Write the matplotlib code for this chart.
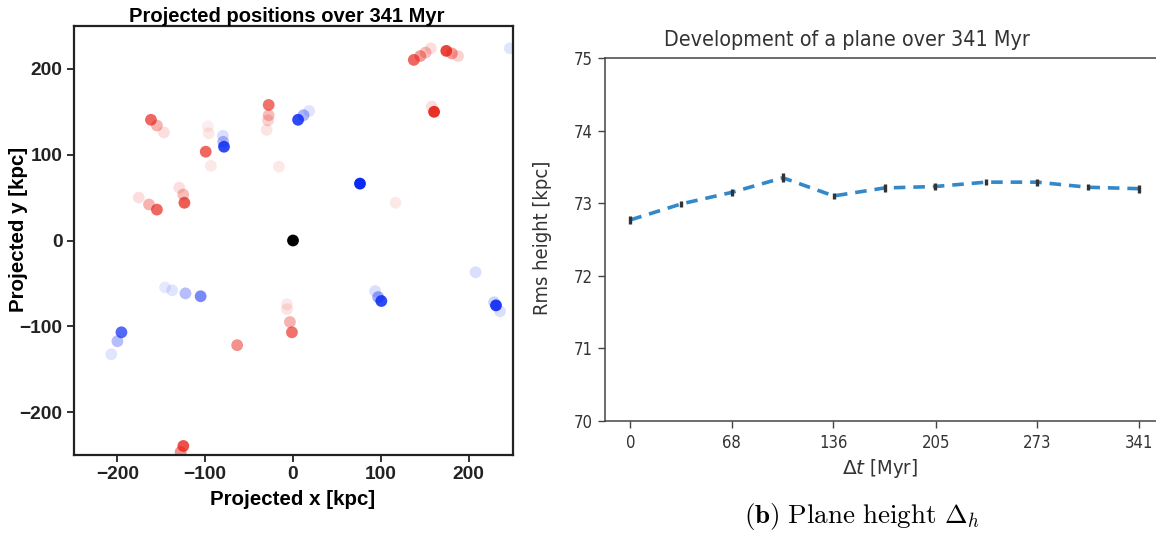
import matplotlib
matplotlib.use("Agg")
import matplotlib.pyplot as plt
import numpy as np

# ---------------- data: left panel (projected positions) ----------------
pos_x = [137.6, 145, 151, 157,
         174.6, 181, 188,
         160.7, 158,
         247,
         5.8, 12, 18.5,
         -27.7, -27.7, -28.5, -30,
         -161.8, -155, -147,
         -99.4, -97, -96, -93.6,
         -78.6, -79.5, -79.8,
         -16,
         76.3,
         116.8,
         -123.7, -125, -129.5,
         -155, -164, -175.7,
         0,
         208,
         -145.7, -137.6, -122.5, -105.2,
         93.6, 97, 100.6,
         231.2, 235.8, 229,
         -6.9, -6.9, -3.5, -1.2,
         -63.6,
         -195.4, -200, -207,
         -124.9, -128]
pos_y = [210.5, 215, 219, 224,
         221, 218, 215,
         150, 156,
         224,
         140.7, 146, 151,
         158, 146, 140, 129,
         140.7, 134, 126,
         103.5, 133, 125, 87,
         109.3, 115, 122,
         86,
         66.3,
         44,
         44, 53.5, 61.6,
         36, 42, 50,
         0,
         -37,
         -54.7, -58, -61.6, -65,
         -59, -66, -70.5,
         -75.6, -82.5, -72,
         -74.4, -80, -95, -107,
         -122,
         -107, -117.4, -132.6,
         -239.5, -246.5]
pos_alpha = [0.7, 0.45, 0.3, 0.15,
             0.85, 0.45, 0.2,
             0.95, 0.15,
             0.12,
             0.85, 0.35, 0.12,
             0.65, 0.3, 0.2, 0.12,
             0.7, 0.35, 0.15,
             0.7, 0.08, 0.1, 0.1,
             0.85, 0.3, 0.15,
             0.1,
             1.0,
             0.1,
             0.75, 0.3, 0.15,
             0.7, 0.35, 0.15,
             1.0,
             0.15,
             0.1, 0.12, 0.3, 0.55,
             0.15, 0.4, 0.85,
             0.9, 0.15, 0.2,
             0.1, 0.12, 0.35, 0.65,
             0.5,
             0.7, 0.3, 0.12,
             0.8, 0.5]
pos_side = ['r'] * 4 + ['r'] * 3 + ['r'] * 2 + ['b'] + ['b'] * 3 + ['r'] * 4 + ['r'] * 3 + \
           ['r'] * 4 + ['b'] * 3 + ['r'] + ['b'] + ['r'] + ['r'] * 3 + ['r'] * 3 + ['k'] + \
           ['b'] + ['b'] * 4 + ['b'] * 3 + ['b'] * 3 + ['r'] * 4 + ['r'] + ['b'] * 3 + ['r'] * 2

# ---------------- data: right panel (plane height) ----------------
dt_myr = [0, 34.1, 68.2, 102.3, 136.4, 170.5, 204.6, 238.7, 272.8, 306.9, 341]
rms_height = [72.77, 72.99, 73.15, 73.35, 73.10, 73.21, 73.23, 73.29, 73.29, 73.22, 73.20]
rms_err = [0.05, 0.045, 0.045, 0.06, 0.045, 0.055, 0.05, 0.045, 0.05, 0.045, 0.055]
xtick_vals = [0, 68, 136, 205, 273, 341]
ytick_vals = [70, 71, 72, 73, 74, 75]

W, H = 1156, 537
fig = plt.figure(figsize=(W / 100, H / 100), dpi=100)

# ---------------- left panel ----------------
side_colors = {'r': (0.91, 0.15, 0.11), 'b': (0.04, 0.16, 0.96), 'k': (0.0, 0.0, 0.0)}
rgba = [(*side_colors[s], a) for s, a in zip(pos_side, pos_alpha)]

axL = fig.add_axes([73.5 / W, 1 - 455 / H, 439 / W, 429 / H])
axL.scatter(pos_x, pos_y, s=72, c=rgba, edgecolors='none')
axL.set_xlim(-250, 250)
axL.set_ylim(-250, 250)
axL.set_xticks([-200, -100, 0, 100, 200])
axL.set_yticks([-200, -100, 0, 100, 200])
boldfont = dict(family='Liberation Sans', weight='bold')
for lab in axL.get_xticklabels() + axL.get_yticklabels():
    lab.set_fontfamily('Liberation Sans')
    lab.set_fontweight('bold')
    lab.set_fontsize(13.8)
    lab.set_color('#222222')
axL.tick_params(direction='out', length=5, width=1.3, color='#222222', pad=3)
for sp in axL.spines.values():
    sp.set_linewidth(1.6)
    sp.set_color('#222222')
axL.set_xlabel('Projected x [kpc]', fontsize=14.8, labelpad=5, **boldfont)
axL.set_ylabel('Projected y [kpc]', fontsize=14.8, **boldfont)
axL.yaxis.set_label_coords((28 - 73.5) / 439, 0.525)
axL.set_title('Projected positions over 341 Myr', fontsize=14.5, pad=3,
              x=(287 - 73.5) / 439, **boldfont)

# ---------------- right panel ----------------
axR = fig.add_axes([605 / W, 1 - 421 / H, 559 / W, 363 / H])
axR.errorbar(dt_myr, rms_height, yerr=rms_err, fmt='none', ecolor='#333333',
             elinewidth=2.4, capsize=0, zorder=3)
axR.plot(dt_myr, rms_height, linestyle=(0, (3.2, 2.2)), color='#3288c9', lw=2.6, zorder=2)
axR.set_xlim(-17.05, 358.05)
axR.set_ylim(70, 75)
axR.set_xticks(xtick_vals)
axR.set_yticks(ytick_vals)
rfont = dict(family='DejaVu Sans', stretch='condensed')
for lab in axR.get_xticklabels() + axR.get_yticklabels():
    lab.set_fontfamily('DejaVu Sans')
    lab.set_fontstretch('condensed')
    lab.set_fontsize(12)
    lab.set_color('#333333')
axR.tick_params(direction='out', length=5, width=1, color='#444444', pad=4)
for sp in axR.spines.values():
    sp.set_linewidth(1.1)
    sp.set_color('#444444')
axR.set_xlabel(r'$\Delta t$ [Myr]', fontsize=14.5, color='#333333', **rfont)
axR.xaxis.set_label_coords((880 - 605) / 559, -(457 - 421) / 363)
axR.set_ylabel('Rms height [kpc]', fontsize=14.5, color='#333333', **rfont)
axR.yaxis.set_label_coords((552 - 605) / 559, (421 - 238) / 363)
fig.text(847 / W, 1 - 40 / H, 'Development of a plane over 341 Myr', ha='center', va='center',
         fontsize=15.4, color='#333333', **rfont)

plt.rcParams['mathtext.fontset'] = 'cm'
fig.text(862 / W, 1 - 517 / H, r'$\mathbf{(b)}\ \mathrm{Plane\ height}\ \Delta_h$',
         ha='center', va='center', fontsize=19.5, color='black')

fig.savefig('out.png', dpi=100)
